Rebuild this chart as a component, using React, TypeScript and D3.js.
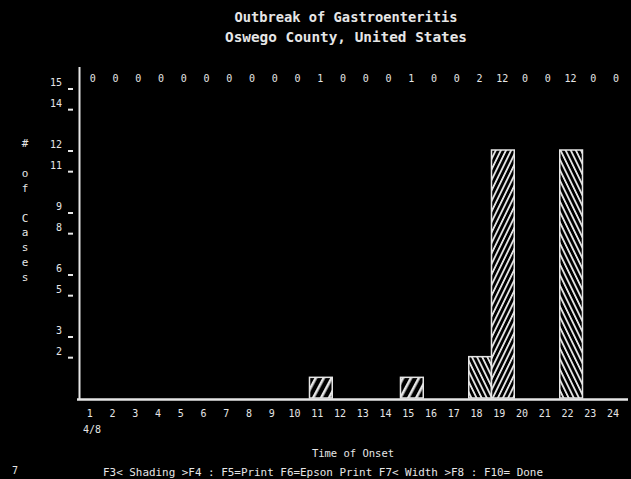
import React from "react";
import * as d3 from "d3";

const hours: number[] = d3.range(1, 25);
const cases: number[] = [0, 0, 0, 0, 0, 0, 0, 0, 0, 0, 1, 0, 0, 0, 1, 0, 0, 2, 12, 0, 0, 12, 0, 0];
const yTickValues: number[] = [15, 14, 12, 11, 9, 8, 6, 5, 3, 2];
const titleLines: string[] = ["Outbreak of Gastroenteritis", "Oswego County, United States"];
const yAxisTitle = "# of Cases";
const xAxisTitle = "Time of Onset";
const dateLabel = "4/8";
const footer = "F3< Shading >F4 : F5=Print F6=Epson Print  F7< Width >F8 : F10= Done";
const cornerText = "7";

// styling (shading per hour)
const shadingByHour: Record<number, string> = { 11: "hA", 15: "hA", 18: "hB", 19: "hC", 22: "hB" };

const W = 631;
const H = 479;
const FG = "#e6e6e6";
const MONO = "'DejaVu Sans Mono', 'Liberation Mono', monospace";

export default function App() {
  const x = d3.scaleBand<number>().domain(hours).range([81.5, 627.5]).padding(0);
  const y = d3.scaleLinear().domain([0, 15]).range([398, 88]);
  const bw = x.bandwidth();

  return (
    <div style={{ margin: 0, padding: 0 }}>
      <style>{`body{margin:0;background:#000}`}</style>
      <svg width={W} height={H} style={{ display: "block", background: "#000" }}>
        <defs>
          <pattern id="hA" patternUnits="userSpaceOnUse" width="7" height="10" patternTransform="rotate(28)">
            <rect x="0" y="0" width="7" height="10" fill="#000" />
            <rect x="0" y="0" width="2.6" height="10" fill={FG} />
          </pattern>
          <pattern id="hB" patternUnits="userSpaceOnUse" width="4.6" height="10" patternTransform="rotate(-26)">
            <rect x="0" y="0" width="4.6" height="10" fill="#000" />
            <rect x="0" y="0" width="1.8" height="10" fill={FG} />
          </pattern>
          <pattern id="hC" patternUnits="userSpaceOnUse" width="4.6" height="10" patternTransform="rotate(26)">
            <rect x="0" y="0" width="4.6" height="10" fill="#000" />
            <rect x="0" y="0" width="1.8" height="10" fill={FG} />
          </pattern>
        </defs>
        <rect x={0} y={0} width={W} height={H} fill="#000" />

        {/* title */}
        {titleLines.map((t, i) => (
          <text key={i} x={346} y={22 + i * 20} textAnchor="middle" fill={FG} fontFamily={MONO}
            fontWeight="bold" fontSize={14} textLength={i === 0 ? 223 : 242} lengthAdjust="spacingAndGlyphs">
            {t}
          </text>
        ))}

        {/* y axis title stacked */}
        {yAxisTitle.split("").map((c, i) => (
          <text key={i} x={25} y={147 + i * 14.9} textAnchor="middle" fill={FG} fontFamily={MONO} fontSize={11}>
            {c}
          </text>
        ))}

        {/* counts row */}
        {hours.map((h, i) => (
          <text key={h} x={(x(h) as number) + bw / 2} y={82} textAnchor="middle" fill={FG} fontFamily={MONO} fontSize={10}>
            {cases[i]}
          </text>
        ))}

        {/* y ticks */}
        {yTickValues.map((v) => (
          <g key={v}>
            <text x={62} y={y(v) - 2} textAnchor="end" fill={FG} fontFamily={MONO} fontSize={10}>
              {v}
            </text>
            <rect x={68} y={y(v)} width={5} height={2} fill={FG} />
          </g>
        ))}

        {/* bars */}
        {hours.map((h, i) =>
          cases[i] > 0 ? (
            <rect key={h} x={(x(h) as number) + 0.5} y={y(cases[i])} width={bw} height={y(0) - y(cases[i])}
              fill={`url(#${shadingByHour[h] || "hA"})`} stroke={FG} strokeWidth={1.5} />
          ) : null
        )}

        {/* axes */}
        <line x1={79.5} y1={67} x2={79.5} y2={399} stroke={FG} strokeWidth={2} />
        <line x1={77} y1={399.5} x2={628} y2={399.5} stroke={FG} strokeWidth={2.5} />

        {/* x tick labels */}
        {hours.map((h) => (
          <text key={h} x={(x(h) as number) + bw / 2 - 3} y={417} textAnchor="middle" fill={FG} fontFamily={MONO} fontSize={10}>
            {h}
          </text>
        ))}
        <text x={83} y={433} fill={FG} fontFamily={MONO} fontSize={10}>{dateLabel}</text>

        <text x={353} y={457} textAnchor="middle" fill={FG} fontFamily={MONO} fontSize={10.5}>{xAxisTitle}</text>
        <text x={103} y={476} fill={FG} fontFamily={MONO} fontSize={11} textLength={440} lengthAdjust="spacingAndGlyphs">{footer}</text>
        <text x={15} y={474} textAnchor="middle" fill={FG} fontFamily={MONO} fontSize={10}>{cornerText}</text>
      </svg>
    </div>
  );
}
